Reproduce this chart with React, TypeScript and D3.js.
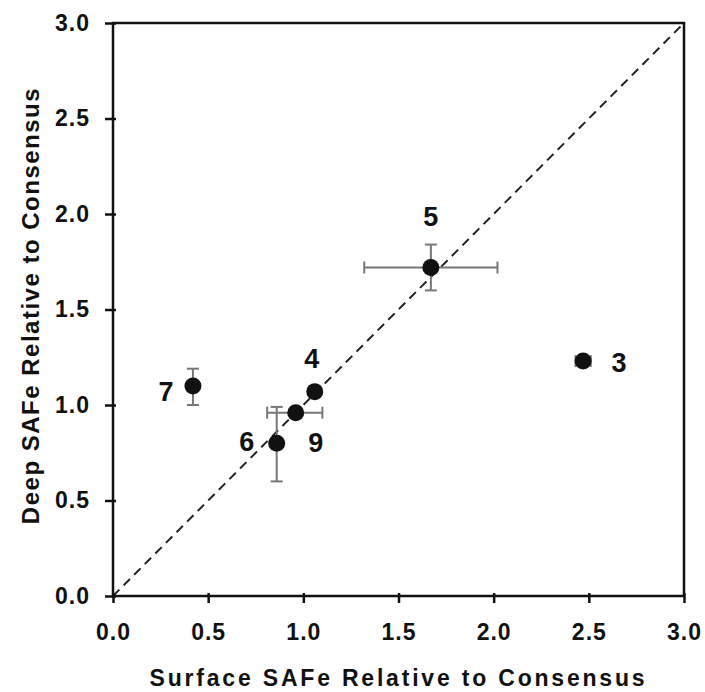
import React, { useEffect, useRef } from "react";
import * as d3 from "d3";

// station labels, surface (x) and deep (y) SAFe relative to consensus
const labels = ["5", "3", "4", "9", "6", "7"];
const surface = [1.67, 2.47, 1.06, 0.96, 0.86, 0.42];
const deep = [1.72, 1.23, 1.07, 0.96, 0.8, 1.1];
const xErrLo = [1.32, 2.43, null, 0.81, null, null];
const xErrHi = [2.02, 2.51, null, 1.1, null, null];
const yErrLo = [1.6, 1.21, null, null, 0.6, 1.0];
const yErrHi = [1.84, 1.25, null, null, 0.99, 1.19];
const ticks = [0, 0.5, 1, 1.5, 2, 2.5, 3];

// label offsets [dx, dy] in px
const labelPos: [number, number][] = [[0, -50], [36, 2], [-3, -33], [20, 30], [-30, -1], [-27, 6]];

export default function App() {
  const ref = useRef<SVGSVGElement>(null);

  useEffect(() => {
    const width = 705, height = 692;
    const margin = { top: 23, right: 21, bottom: 96, left: 113 };
    const svg = d3.select(ref.current).attr("width", width).attr("height", height);
    svg.selectAll("*").remove();

    const x = d3.scaleLinear().domain([0, 3]).range([margin.left, width - margin.right]);
    const y = d3.scaleLinear().domain([0, 3]).range([height - margin.bottom, margin.top]);
    const font = "'Liberation Sans', Arial, sans-serif";

    // 1:1 line
    svg.append("line")
      .attr("x1", x(0)).attr("y1", y(0)).attr("x2", x(3)).attr("y2", y(3))
      .attr("stroke", "#222").attr("stroke-width", 2).attr("stroke-dasharray", "9,6");

    // frame
    svg.append("rect")
      .attr("x", x(0)).attr("y", y(3)).attr("width", x(3) - x(0)).attr("height", y(0) - y(3))
      .attr("fill", "none").attr("stroke", "#111").attr("stroke-width", 2.5);

    const xAxis = svg.append("g").attr("transform", `translate(0,${y(0)})`)
      .call(d3.axisBottom(x).tickValues(ticks).tickFormat(d3.format(".1f")).tickSize(7).tickPadding(21));
    const yAxis = svg.append("g").attr("transform", `translate(${x(0)},0)`)
      .call(d3.axisLeft(y).tickValues(ticks).tickFormat(d3.format(".1f")).tickSize(8).tickPadding(15));
    [xAxis, yAxis].forEach(a => {
      a.select(".domain").remove();
      a.selectAll(".tick line").attr("stroke", "#111").attr("stroke-width", 2.5);
      a.selectAll("text").attr("font-family", font).attr("font-weight", "bold")
        .attr("font-size", 23).attr("letter-spacing", 1).attr("fill", "#111");
    });
    xAxis.selectAll(".tick line").attr("y1", -3);
    yAxis.selectAll(".tick line").attr("x1", 3);

    // error bars
    const eb = svg.append("g").attr("stroke", "#777").attr("stroke-width", 2);
    const cap = 6;
    labels.forEach((_, i) => {
      const lo = xErrLo[i], hi = xErrHi[i];
      if (lo != null && hi != null) {
        const cy = y(deep[i]);
        eb.append("line").attr("x1", x(lo)).attr("x2", x(hi)).attr("y1", cy).attr("y2", cy);
        [lo, hi].forEach(v => eb.append("line").attr("x1", x(v)).attr("x2", x(v)).attr("y1", cy - cap).attr("y2", cy + cap));
      }
      const ylo = yErrLo[i], yhi = yErrHi[i];
      if (ylo != null && yhi != null) {
        const cx = x(surface[i]);
        eb.append("line").attr("x1", cx).attr("x2", cx).attr("y1", y(ylo)).attr("y2", y(yhi));
        [ylo, yhi].forEach(v => eb.append("line").attr("x1", cx - cap).attr("x2", cx + cap).attr("y1", y(v)).attr("y2", y(v)));
      }
    });

    svg.append("g").selectAll("circle").data(labels).join("circle")
      .attr("cx", (_, i) => x(surface[i])).attr("cy", (_, i) => y(deep[i]))
      .attr("r", 8.5).attr("fill", "#111");

    svg.append("g").selectAll("text").data(labels).join("text")
      .attr("x", (_, i) => x(surface[i]) + labelPos[i][0])
      .attr("y", (_, i) => y(deep[i]) + labelPos[i][1])
      .attr("text-anchor", "middle").attr("dominant-baseline", "central")
      .attr("font-family", font).attr("font-weight", "bold").attr("font-size", 27).attr("fill", "#111")
      .text(d => d);

    svg.append("text")
      .attr("x", (x(0) + x(3)) / 2).attr("y", 678)
      .attr("text-anchor", "middle").attr("dominant-baseline", "central")
      .attr("font-family", font).attr("font-weight", "bold").attr("font-size", 23)
      .attr("letter-spacing", 2.8).attr("fill", "#111")
      .text("Surface SAFe Relative to Consensus");

    svg.append("text")
      .attr("transform", `translate(30,${(y(0) + y(3)) / 2 - 4}) rotate(-90)`)
      .attr("text-anchor", "middle").attr("dominant-baseline", "central")
      .attr("font-family", font).attr("font-weight", "bold").attr("font-size", 24)
      .attr("letter-spacing", 1.5).attr("fill", "#111")
      .text("Deep SAFe Relative to Consensus");
  }, []);

  return <svg ref={ref} style={{ position: "absolute", left: 0, top: 0, background: "#fff" }} />;
}
